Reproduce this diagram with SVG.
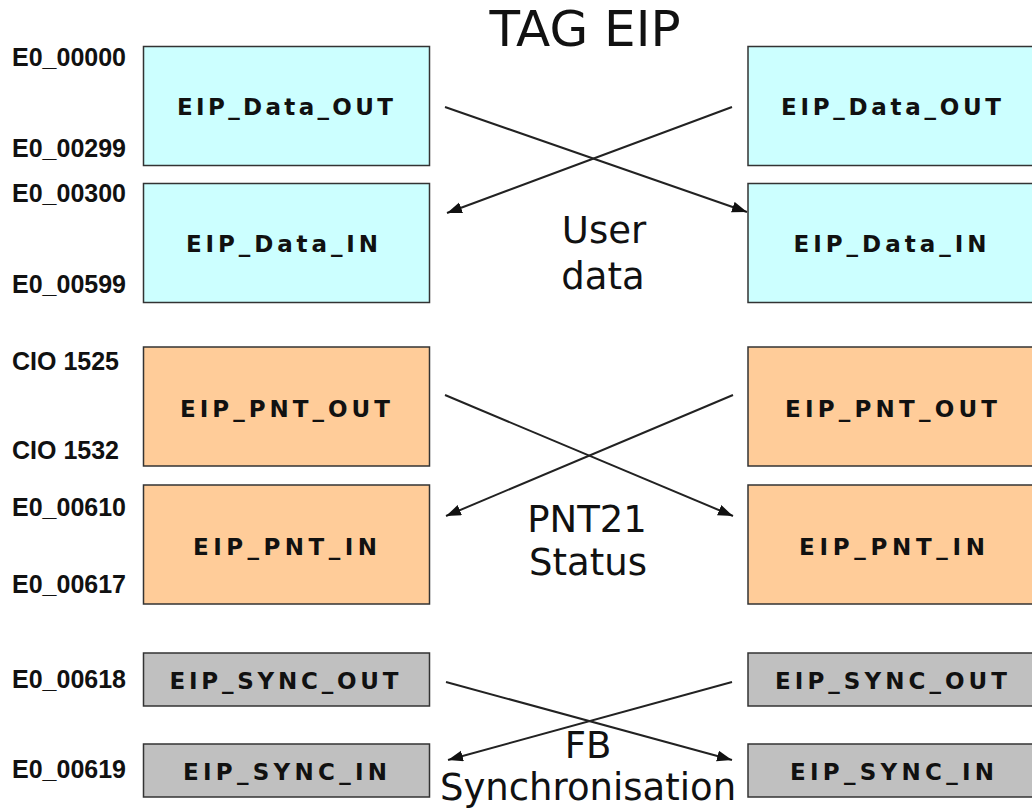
<svg xmlns="http://www.w3.org/2000/svg" width="1032" height="812" viewBox="0 0 1032 812">
<style>
.box{stroke:#333;stroke-width:1.5}
.data{fill:#CCFFFF}
.pnt{fill:#FFCC99}
.sync{fill:#C0C0C0}
.bt{font-family:"DejaVu Sans",Verdana,sans-serif;font-weight:bold;font-size:23px;fill:#111;text-anchor:middle}
.addr{font-family:"Liberation Sans",Arial,sans-serif;font-weight:bold;font-size:25px;fill:#111}
.mid{font-family:"DejaVu Sans",Verdana,sans-serif;font-size:37px;fill:#111;text-anchor:middle}
.title{font-family:"DejaVu Sans",Verdana,sans-serif;font-size:50px;fill:#111;text-anchor:middle}
.conn{stroke:#222;stroke-width:2;fill:none;marker-end:url(#arrow)}
</style>
<defs>
<marker id="arrow" markerUnits="userSpaceOnUse" markerWidth="16" markerHeight="12" refX="15" refY="5.5" orient="auto">
<path d="M0,0 L15,5.5 L0,11 z" fill="#111"/>
</marker>
</defs>
<rect width="1032" height="812" fill="#fff"/>
<text class="title" x="585" y="46">TAG EIP</text>

<g id="left_data_out">
<rect class="box data" x="143.5" y="46.5" width="286" height="119"/>
<text class="bt" x="285" y="115" textLength="216">EIP_Data_OUT</text>
<text class="addr" x="12" y="66">E0_00000</text>
<text class="addr" x="12" y="157">E0_00299</text>
</g>
<g id="left_data_in">
<rect class="box data" x="143.5" y="183.5" width="286" height="119"/>
<text class="bt" x="282" y="252" textLength="192">EIP_Data_IN</text>
<text class="addr" x="12" y="202">E0_00300</text>
<text class="addr" x="12" y="293">E0_00599</text>
</g>
<g id="right_data_out">
<rect class="box data" x="748" y="46.5" width="300" height="119"/>
<text class="bt" x="891" y="115" textLength="220">EIP_Data_OUT</text>
</g>
<g id="right_data_in">
<rect class="box data" x="748" y="183.5" width="300" height="119"/>
<text class="bt" x="890" y="252" textLength="193">EIP_Data_IN</text>
</g>

<g id="left_pnt_out">
<rect class="box pnt" x="143.5" y="347" width="286" height="119"/>
<text class="bt" x="285" y="417" textLength="210">EIP_PNT_OUT</text>
<text class="addr" x="12" y="370">CIO 1525</text>
<text class="addr" x="12" y="459">CIO 1532</text>
</g>
<g id="left_pnt_in">
<rect class="box pnt" x="143.5" y="485" width="286" height="119"/>
<text class="bt" x="285" y="555" textLength="184">EIP_PNT_IN</text>
<text class="addr" x="12" y="516">E0_00610</text>
<text class="addr" x="12" y="593">E0_00617</text>
</g>
<g id="right_pnt_out">
<rect class="box pnt" x="748" y="347" width="300" height="119"/>
<text class="bt" x="891" y="417" textLength="212">EIP_PNT_OUT</text>
</g>
<g id="right_pnt_in">
<rect class="box pnt" x="748" y="485" width="300" height="119"/>
<text class="bt" x="892" y="555" textLength="186">EIP_PNT_IN</text>
</g>

<g id="left_sync_out">
<rect class="box sync" x="143.5" y="653" width="286" height="53"/>
<text class="bt" x="284" y="689" textLength="229">EIP_SYNC_OUT</text>
<text class="addr" x="12" y="688">E0_00618</text>
</g>
<g id="left_sync_in">
<rect class="box sync" x="143.5" y="744" width="286" height="53"/>
<text class="bt" x="285" y="780" textLength="204">EIP_SYNC_IN</text>
<text class="addr" x="12" y="778">E0_00619</text>
</g>
<g id="right_sync_out">
<rect class="box sync" x="748" y="653" width="300" height="53"/>
<text class="bt" x="891" y="689" textLength="232">EIP_SYNC_OUT</text>
</g>
<g id="right_sync_in">
<rect class="box sync" x="748" y="744" width="300" height="53"/>
<text class="bt" x="892" y="780" textLength="204">EIP_SYNC_IN</text>
</g>

<g id="connectors">
<line class="conn" x1="445" y1="107" x2="747" y2="212"/>
<line class="conn" x1="732" y1="107" x2="447" y2="213"/>
<line class="conn" x1="445" y1="395" x2="733" y2="516"/>
<line class="conn" x1="733" y1="395" x2="446" y2="516"/>
<line class="conn" x1="446" y1="682" x2="732" y2="760"/>
<line class="conn" x1="732" y1="682" x2="448" y2="760"/>
</g>

<g id="labels">
<text class="mid" x="604" y="243">User</text>
<text class="mid" x="603" y="289">data</text>
<text class="mid" x="587" y="532">PNT21</text>
<text class="mid" x="588" y="575">Status</text>
<text class="mid" x="588" y="758">FB</text>
<text class="mid" x="588" y="800">Synchronisation</text>
</g>
</svg>
